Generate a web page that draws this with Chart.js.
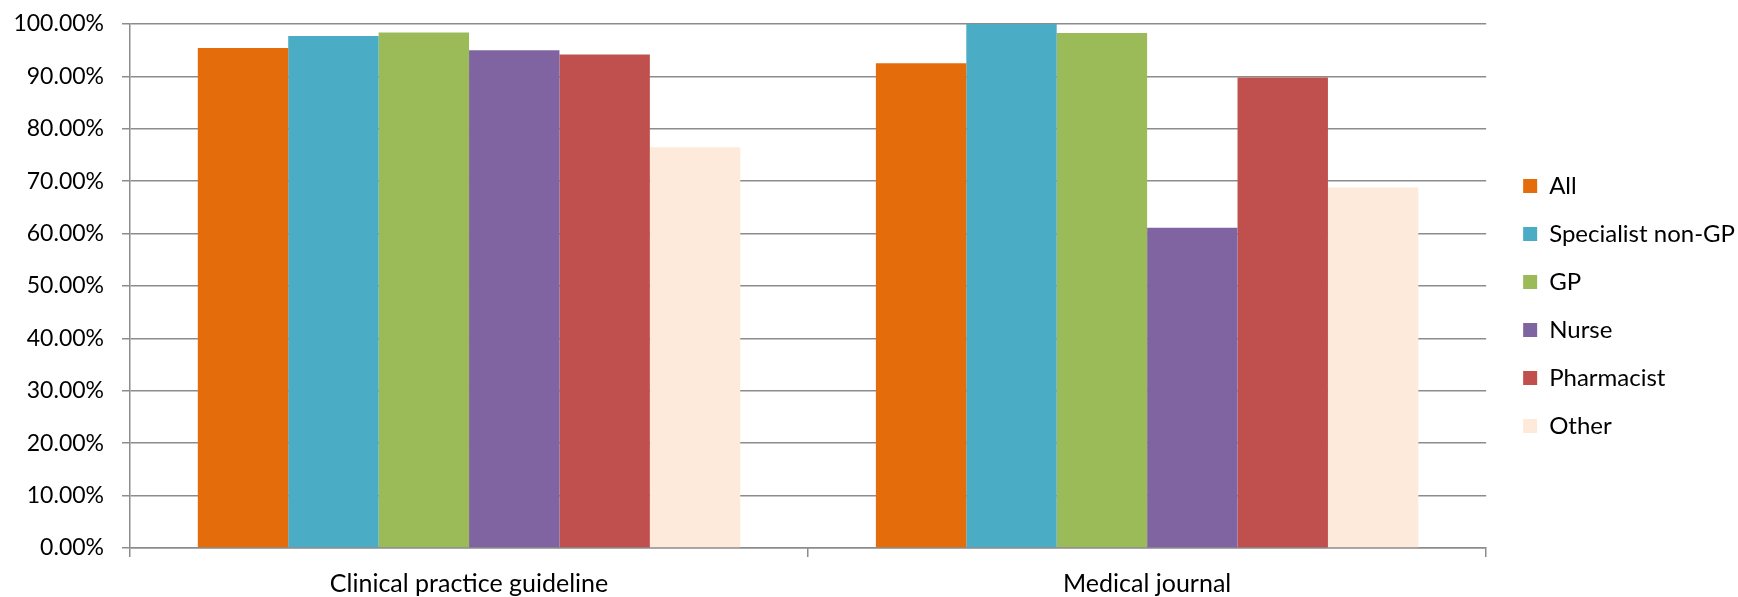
<!DOCTYPE html>
<html>
<head>
<meta charset="utf-8">
<script src="https://cdn.jsdelivr.net/npm/chart.js@4"></script>
<style>
html,body{margin:0;padding:0;background:#fff;}
#wrap{width:1738px;height:597px;position:relative;}
</style>
</head>
<body>
<div id="wrap"><canvas id="c"></canvas></div>
<script>
const categories = ["Clinical practice guideline", "Medical journal"];
const seriesNames = ["All", "Specialist non-GP", "GP", "Nurse", "Pharmacist", "Other"];
const seriesColors = ["#E46C0A", "#4BACC6", "#9BBB59", "#8064A2", "#C0504D", "#FDEADA"];
const allValues = [95.4, 92.5];
const specialistValues = [97.7, 100.0];
const gpValues = [98.4, 98.3];
const nurseValues = [95.0, 61.1];
const pharmacistValues = [94.2, 89.8];
const otherValues = [76.5, 68.8];
const yTicks = [0, 10, 20, 30, 40, 50, 60, 70, 80, 90, 100];

const seriesValues = [allValues, specialistValues, gpValues, nurseValues, pharmacistValues, otherValues];
const FONT = "Lato, 'Open Sans', sans-serif";
const GRID = "#8c8c8c";

new Chart(document.getElementById('c'), {
  type: 'bar',
  data: {
    labels: categories,
    datasets: seriesNames.map((n, i) => ({
      label: n,
      data: seriesValues[i],
      backgroundColor: seriesColors[i],
      borderWidth: 0,
      categoryPercentage: 0.8,
      barPercentage: 1.0
    }))
  },
  options: {
    responsive: true,
    maintainAspectRatio: false,
    animation: false,
    devicePixelRatio: 1,
    layout: { padding: { top: -2, left: 13, right: -7, bottom: 0 } },
    plugins: {
      tooltip: { enabled: false },
      legend: {
        position: 'right',
        align: 'center',
        title: { display: true, text: '', padding: 0, font: { family: FONT, size: 14 } },
        labels: {
          boxWidth: 14,
          boxHeight: 14,
          padding: 24.0,
          color: '#000',
          font: { family: FONT, size: 24 }
        }
      }
    },
    scales: {
      x: {
        grid: { drawOnChartArea: false, drawTicks: true, tickLength: 9, color: GRID, lineWidth: 1.5 },
        border: { display: true, color: GRID, width: 1.5 },
        ticks: { color: '#000', padding: 12, font: { family: FONT, size: 25 } },
        afterFit: (s) => { s.height = 49; }
      },
      y: {
        min: 0, max: 100,
        afterBuildTicks: (s) => { s.ticks = yTicks.map(v => ({ value: v })); },
        grid: { color: GRID, lineWidth: 1.5, tickLength: 8 },
        border: { display: true, color: GRID, width: 1.5 },
        ticks: {
          color: '#000', padding: 18,
          font: { family: FONT, size: 23 },
          callback: (v) => Number(v).toFixed(2) + '%'
        },
        afterFit: (s) => { s.width = 117; s.paddingTop = 24; }
      },
      yPad: {
        position: 'right',
        display: true,
        grid: { display: false, drawTicks: false },
        border: { display: false },
        ticks: { display: false },
        afterFit: (s) => { s.width = 13; }
      }
    }
  }
});
</script>
</body>
</html>
